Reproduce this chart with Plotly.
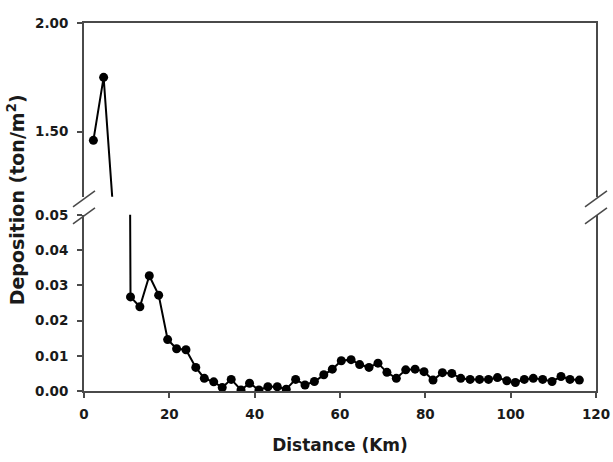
import plotly.graph_objects as go

# Data
distance_km = [2.2, 4.6,
               10.9, 13.1, 15.3, 17.5, 19.6, 21.7, 23.9, 26.2, 28.2, 30.4,
               32.4, 34.5, 36.8, 38.8, 41.0, 43.1, 45.3, 47.4, 49.6, 51.8,
               54.0, 56.2, 58.2, 60.3, 62.6, 64.6, 66.8, 68.9, 71.0, 73.2,
               75.4, 77.6, 79.7, 81.8, 84.0, 86.2, 88.3, 90.5, 92.7, 94.8,
               96.9, 99.1, 101.1, 103.2, 105.3, 107.5, 109.7, 111.8, 113.9, 116.1]
deposition = [1.46, 1.75,
              0.0267, 0.0239, 0.0327, 0.0272, 0.0146, 0.0120, 0.0117, 0.0067, 0.0036, 0.0026,
              0.0010, 0.0033, 0.0003, 0.0022, 0.0003, 0.0012, 0.0012, 0.0005, 0.0033, 0.0017,
              0.0027, 0.0046, 0.0062, 0.0086, 0.0089, 0.0075, 0.0067, 0.0079, 0.0053, 0.0036,
              0.0060, 0.0062, 0.0055, 0.0031, 0.0052, 0.0050, 0.0036, 0.0033, 0.0033, 0.0033,
              0.0038, 0.0029, 0.0024, 0.0033, 0.0036, 0.0033, 0.0027, 0.0041, 0.0033, 0.0031]

x_ticks = [0, 20, 40, 60, 80, 100, 120]
low_ticks = [0.00, 0.01, 0.02, 0.03, 0.04, 0.05]
high_ticks = [1.50, 2.00]
x_range = [0, 120]
low_range = [0, 0.05]
high_range = [1.2, 2.0]

W, H = 613, 462
ML, MR, MT, MB = 83.5, 17.3, 23.3, 71
PW = W - ML - MR
PH = H - MT - MB
def py(ypx):
    return (H - MB - ypx) / PH
def px(xpx):
    return (xpx - ML) / PW

frame = "#4a4a4a"
txt = "#1a1a1a"
FAM = "DejaVu Sans"
tickfont = dict(family=FAM, size=13.5, color=txt, weight="bold")
xtitlefont = dict(family=FAM, size=17, color=txt, weight="bold")
ytitlefont = dict(family=FAM, size=19, color=txt, weight="bold")

marker = dict(symbol="circle", size=9, color="black")
line = dict(color="black", width=2)

fig = go.Figure()
fig.add_trace(go.Scatter(x=distance_km, y=deposition, mode="lines+markers",
                         marker=marker, line=line, xaxis="x", yaxis="y",
                         showlegend=False))
fig.add_trace(go.Scatter(x=distance_km, y=deposition, mode="lines+markers",
                         marker=marker, line=line, xaxis="x2", yaxis="y2",
                         showlegend=False))

low_top = py(215)
high_bot = py(197)

fig.update_layout(
    width=W, height=H,
    margin=dict(l=ML, r=MR, t=MT, b=MB),
    paper_bgcolor="white", plot_bgcolor="white",
    xaxis=dict(domain=[0, 1], range=x_range, anchor="y", tickvals=x_ticks,
               ticks="outside", ticklen=5, tickwidth=1.5, tickcolor=frame,
               showline=True, linecolor=frame, linewidth=2, showgrid=False,
               zeroline=False, tickfont=tickfont, ticklabelstandoff=5,
               automargin=False,
               title=dict(text="Distance (Km)", font=xtitlefont, standoff=18)),
    yaxis=dict(domain=[0, low_top], range=low_range, anchor="x",
               tickvals=low_ticks, tickformat=".2f",
               ticks="outside", ticklen=5, tickwidth=1.5, tickcolor=frame,
               showline=True, mirror=True, linecolor=frame, linewidth=2,
               showgrid=False, zeroline=False, tickfont=tickfont,
               ticklabelstandoff=6, automargin=False),
    xaxis2=dict(domain=[0, 1], range=x_range, anchor="y2", side="top",
                showticklabels=False, ticks="", showline=True,
                linecolor=frame, linewidth=2, showgrid=False, zeroline=False,
                automargin=False),
    yaxis2=dict(domain=[high_bot, 1], range=high_range, anchor="x2",
                tickvals=high_ticks, tickformat=".2f",
                ticks="outside", ticklen=5, tickwidth=1.5, tickcolor=frame,
                showline=True, mirror=True, linecolor=frame, linewidth=2,
                showgrid=False, zeroline=False, tickfont=tickfont,
                ticklabelstandoff=6, automargin=False),
)

fig.add_annotation(text="Deposition (ton/m<sup>2</sup>)", textangle=-90,
                   xref="paper", yref="paper", x=px(15), y=py(200),
                   xanchor="center", yanchor="middle",
                   showarrow=False, font=ytitlefont)

# axis break marks on left and right
for xc in (83.5, 595.7):
    for yc in (199, 216):
        fig.add_shape(type="line", xref="paper", yref="paper",
                      x0=px(xc - 11), y0=py(yc + 8), x1=px(xc + 11), y1=py(yc - 8),
                      line=dict(color=frame, width=1.5))

fig.write_html("out.html")
